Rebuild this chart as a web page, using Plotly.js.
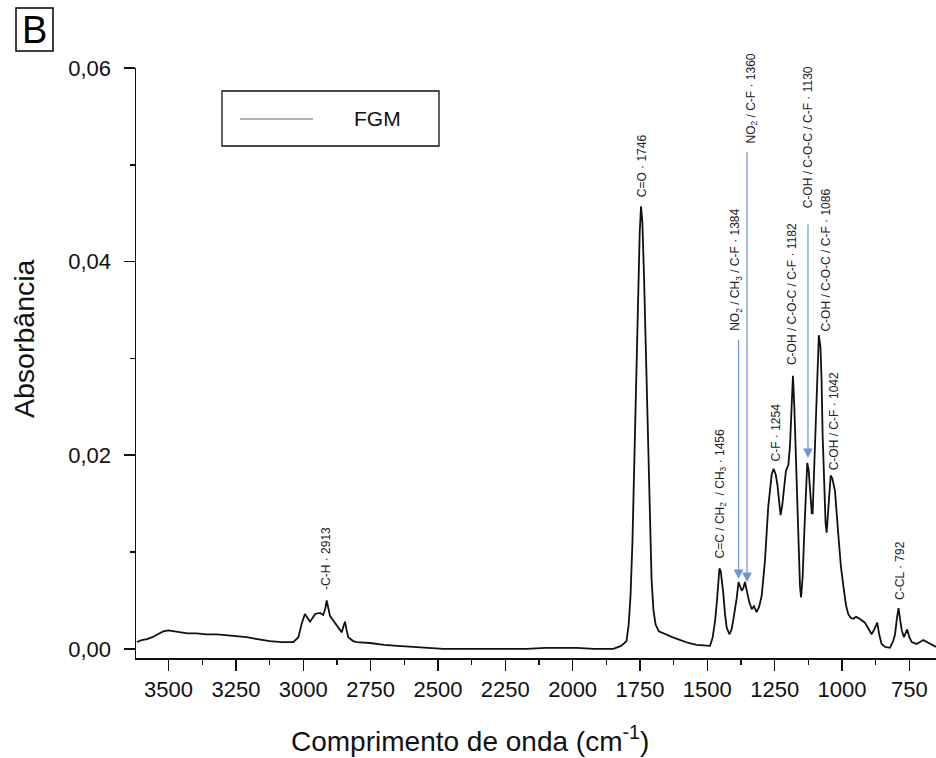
<!DOCTYPE html>
<html>
<head>
<meta charset="utf-8">
<script src="https://cdn.plot.ly/plotly-3.0.1.min.js"></script>
<style>
  html, body { margin: 0; padding: 0; background: #fff; }
  #chart { width: 936px; height: 758px; }
</style>
</head>
<body>
<div id="chart"></div>
<script>
// ---- data ----
const wavenumber = [
  3618, 3600, 3580, 3560, 3540, 3520, 3501, 3480, 3458, 3430, 3396, 3360, 3320, 3272, 3240, 3210, 3170, 3124, 3080, 3037,
  3018, 3006, 2994, 2985, 2975, 2965, 2956, 2938, 2926, 2918, 2913, 2907, 2901, 2888, 2876, 2865, 2857, 2850, 2845, 2839,
  2833, 2815, 2802, 2752, 2700, 2650, 2600, 2542, 2480, 2418, 2350, 2300, 2250, 2171, 2100, 2050, 1985, 1920, 1880, 1849,
  1820, 1812, 1800, 1792, 1785, 1778, 1771, 1764, 1757, 1751, 1746, 1741, 1735, 1728, 1721, 1714, 1707, 1700, 1692, 1680,
  1665, 1650, 1630, 1610, 1590, 1570, 1540, 1510, 1490, 1480, 1471, 1464, 1459, 1455, 1450, 1445, 1441, 1434, 1428, 1418,
  1410, 1404, 1397, 1391, 1384, 1378, 1372, 1366, 1360, 1352, 1344, 1335, 1327, 1317, 1308, 1298, 1286, 1274, 1261, 1254,
  1246, 1240, 1233, 1228, 1222, 1216, 1208, 1199, 1193, 1187, 1182, 1177, 1171, 1162, 1156, 1152, 1146, 1140, 1134, 1129,
  1124, 1119, 1112, 1109, 1104, 1100, 1092, 1086, 1080, 1076, 1072, 1066, 1061, 1057, 1052, 1047, 1042, 1036, 1026, 1014,
  1004, 995, 985, 977, 968, 958, 948, 940, 928, 915, 902, 890, 880, 869, 862, 853, 840, 822, 810, 803,
  796, 790, 784, 778, 770, 764, 758, 750, 741, 723, 710, 698, 685, 673, 651
];
const absorbance = [
  0.0007, 0.0009, 0.0010, 0.0012, 0.0015, 0.0018, 0.0019, 0.0018, 0.0017, 0.0016, 0.0016, 0.0015, 0.0015, 0.0014, 0.0013, 0.0012, 0.0010, 0.0008, 0.0007, 0.0007,
  0.0012, 0.0026, 0.0036, 0.0032, 0.0028, 0.0032, 0.0036, 0.0037, 0.0035, 0.0042, 0.0050, 0.0042, 0.0034, 0.0029, 0.0024, 0.0019, 0.0017, 0.0024, 0.0028, 0.0019,
  0.0012, 0.0008, 0.0007, 0.0006, 0.0004, 0.0003, 0.0002, 0.0001, 0.0000, 0.0000, 0.0000, 0.0000, 0.0000, 0.0000, 0.0001, 0.0001, 0.0001, 0.0000, 0.0000, 0.0000,
  0.0003, 0.0005, 0.0008, 0.0025, 0.0055, 0.0110, 0.0190, 0.0280, 0.0370, 0.0430, 0.0457, 0.0440, 0.0385, 0.0300, 0.0210, 0.0130, 0.0072, 0.0040, 0.0025, 0.0018,
  0.0016, 0.0014, 0.0012, 0.0010, 0.0008, 0.0006, 0.0004, 0.0003, 0.0003, 0.0012, 0.0029, 0.0050, 0.0070, 0.0083, 0.0080, 0.0070, 0.0058, 0.0035, 0.0022, 0.0015,
  0.0020, 0.0029, 0.0040, 0.0052, 0.0069, 0.0064, 0.0060, 0.0063, 0.0069, 0.0058, 0.0048, 0.0041, 0.0044, 0.0038, 0.0043, 0.0055, 0.0091, 0.0146, 0.0180, 0.0186,
  0.0180, 0.0170, 0.0150, 0.0138, 0.0148, 0.0165, 0.0184, 0.0190, 0.0210, 0.0250, 0.0282, 0.0250, 0.0194, 0.0108, 0.0065, 0.0053, 0.0075, 0.0120, 0.0165, 0.0192,
  0.0185, 0.0162, 0.0140, 0.0140, 0.0180, 0.0222, 0.0291, 0.0324, 0.0312, 0.0280, 0.0222, 0.0160, 0.0130, 0.0120, 0.0138, 0.0160, 0.0179, 0.0176, 0.0163, 0.0119,
  0.0085, 0.0065, 0.0045, 0.0036, 0.0032, 0.0031, 0.0033, 0.0032, 0.0030, 0.0027, 0.0021, 0.0015, 0.0020, 0.0027, 0.0015, 0.0005, 0.0002, 0.0001, 0.0008, 0.0015,
  0.0032, 0.0042, 0.0030, 0.0019, 0.0012, 0.0016, 0.0020, 0.0012, 0.0007, 0.0005, 0.0007, 0.0009, 0.0007, 0.0005, 0.0002
];

const seriesName = "FGM";

const xTickVals = [3500, 3250, 3000, 2750, 2500, 2250, 2000, 1750, 1500, 1250, 1000, 750];
const xTickText = ["3500", "3250", "3000", "2750", "2500", "2250", "2000", "1750", "1500", "1250", "1000", "750"];
const yTickVals = [0, 0.02, 0.04, 0.06];
const yTickText = ["0,00", "0,02", "0,04", "0,06"];

// peak assignments (label text, peak wavenumber)
const peakText = [
  "-C-H · 2913",
  "C=O · 1746",
  "C=C / CH<sub>2</sub>  / CH<sub>3</sub> · 1456",
  "NO<sub>2</sub> / CH<sub>3</sub> / C-F · 1384",
  "NO<sub>2</sub> / C-F · 1360",
  "C-F · 1254",
  "C-OH / C-O-C / C-F · 1182",
  "C-OH / C-O-C / C-F · 1130",
  "C-OH / C-O-C / C-F · 1086",
  "C-OH / C-F · 1042",
  "C-CL · 792"
];
const peakWn = [2913, 1746, 1456, 1384, 1360, 1254, 1182, 1130, 1086, 1042, 792];

// ---- layout helpers (decoration placement only) ----
const W = 936, H = 758;
const M = { l: 136, r: 0, t: 68, b: 100 };
const pw = W - M.l - M.r, ph = H - M.t - M.b;
const px = v => (v - M.l) / pw;        // pixel -> paper x
const py = v => (H - M.b - v) / ph;    // pixel -> paper y

const FONT = "Liberation Sans, Arial, sans-serif";

// label placement: bottom of label (absorbance), horizontal pixel nudge, arrow spec
const labelPlace = [
  { y: 0.0060, dx: 0 },
  { y: 0.0465, dx: 1 },
  { y: 0.0092, dx: 2 },
  { y: 0.0327, dx: -2, arrow: { tip: 0.0072, tail: 0.0321, dx: 0 } },
  { y: 0.0521, dx: 7, arrow: { tip: 0.0069, tail: 0.0515, dx: 2 } },
  { y: 0.0192, dx: 2 },
  { y: 0.0292, dx: -1 },
  { y: 0.0454, dx: 1, arrow: { tip: 0.0197, tail: 0.0440, dx: 1 } },
  { y: 0.0327, dx: 7 },
  { y: 0.0183, dx: 3 },
  { y: 0.0049, dx: 2 }
];

const annotations = [];
peakText.forEach((t, i) => {
  const p = labelPlace[i];
  annotations.push({
    x: peakWn[i], y: p.y, xref: "x", yref: "y",
    text: t, textangle: -90, showarrow: false,
    xanchor: "center", yanchor: "bottom", xshift: p.dx, borderpad: 0,
    font: { family: FONT, size: 12, color: "#222" }
  });
  if (p.arrow) {
    annotations.push({
      x: peakWn[i], y: p.arrow.tip, xref: "x", yref: "y",
      ax: peakWn[i], ay: p.arrow.tail, axref: "x", ayref: "y",
      xshift: p.arrow.dx,
      text: "", showarrow: true, arrowhead: 2, arrowsize: 1.6, arrowwidth: 1.2,
      arrowcolor: "#7194d8", standoff: 0
    });
  }
});

// axis titles
annotations.push({
  xref: "paper", yref: "paper", x: px(470), y: py(739),
  text: "Comprimento de onda (cm<sup>-1</sup>)", showarrow: false,
  xanchor: "center", yanchor: "middle",
  font: { family: FONT, size: 28, color: "#111" }
});
annotations.push({
  xref: "paper", yref: "paper", x: px(24), y: py(338),
  text: "Absorbância", textangle: -90, showarrow: false,
  xanchor: "center", yanchor: "middle",
  font: { family: FONT, size: 28.5, color: "#111" }
});
// panel letter
annotations.push({
  xref: "paper", yref: "paper", x: px(34.5), y: py(30),
  text: "B", showarrow: false, xanchor: "center", yanchor: "middle",
  font: { family: FONT, size: 38, color: "#000" }
});
// legend text
annotations.push({
  xref: "paper", yref: "paper", x: px(352), y: py(119),
  text: seriesName, showarrow: false, xanchor: "left", yanchor: "middle",
  font: { family: FONT, size: 21, color: "#111" }
});

const shapes = [
  // panel letter box
  { type: "rect", xref: "paper", yref: "paper", x0: px(16), x1: px(53), y0: py(51), y1: py(8),
    line: { color: "#000", width: 1.5 }, fillcolor: "rgba(0,0,0,0)" },
  // legend box
  { type: "rect", xref: "paper", yref: "paper", x0: px(222), x1: px(439), y0: py(146), y1: py(91),
    line: { color: "#111", width: 1.3 }, fillcolor: "rgba(0,0,0,0)" },
  // legend line sample
  { type: "line", xref: "paper", yref: "paper", x0: px(240), x1: px(313), y0: py(119), y1: py(119),
    line: { color: "#666", width: 1 } }
];

const trace = {
  type: "scatter", mode: "lines", name: seriesName,
  x: wavenumber, y: absorbance,
  line: { color: "#111", width: 1.8 },
  showlegend: false, hoverinfo: "x+y"
};

const layout = {
  width: W, height: H,
  margin: M,
  paper_bgcolor: "#fff", plot_bgcolor: "#fff",
  separators: ", ",
  showlegend: false,
  font: { family: FONT, color: "#111" },
  xaxis: {
    range: [3621, 651],
    tickmode: "array", tickvals: xTickVals, ticktext: xTickText,
    ticks: "outside", ticklen: 11, tickwidth: 1.5, tickcolor: "#111",
    minor: { dtick: 125, tick0: 625, ticks: "outside", ticklen: 5, tickwidth: 1.5, tickcolor: "#111", showgrid: false },
    showline: true, linecolor: "#111", linewidth: 1.5,
    showgrid: false, zeroline: false,
    tickfont: { family: FONT, size: 22, color: "#111" },
    ticklabelstandoff: 0
  },
  yaxis: {
    range: [-0.00095, 0.06],
    tickmode: "array", tickvals: yTickVals, ticktext: yTickText,
    ticks: "outside", ticklen: 11, tickwidth: 1.5, tickcolor: "#111",
    minor: { dtick: 0.01, tick0: 0, ticks: "outside", ticklen: 5, tickwidth: 1.5, tickcolor: "#111", showgrid: false },
    showline: true, linecolor: "#111", linewidth: 1.5,
    showgrid: false, zeroline: false,
    tickfont: { family: FONT, size: 22, color: "#111" },
    ticklabelstandoff: 8
  },
  annotations: annotations,
  shapes: shapes
};

Plotly.newPlot("chart", [trace], layout, { staticPlot: true, displayModeBar: false });
</script>
</body>
</html>
